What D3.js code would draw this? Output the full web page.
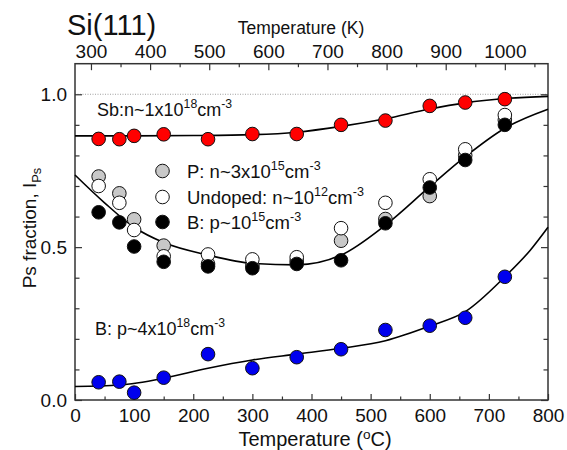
<!DOCTYPE html>
<html>
<head>
<meta charset="utf-8">
<script src="https://cdn.jsdelivr.net/npm/d3@7"></script>
<style>
  html, body { margin: 0; padding: 0; background: #fff; }
  svg { display: block; font-family: "Liberation Sans", Arial, sans-serif; }
</style>
</head>
<body>
<svg id="chart" width="567" height="450"></svg>
<script>
// ---------- DATA ----------
const temperatures = [40, 75, 100, 150, 225, 300, 375, 450, 525, 600, 660, 727];
const sbHigh   = [0.854, 0.853, 0.864, 0.869, 0.853, 0.870, 0.870, 0.900, 0.914, 0.962, 0.973, 0.984];
const sbError  = [0.02, 0.02, 0.02, 0.02, 0.02, 0.02, 0.02, 0.02, 0.02, 0.02, 0.02, 0.02];
const pLow     = [0.731, 0.676, 0.591, 0.505, 0.445, 0.440, 0.455, 0.521, 0.592, 0.667, 0.800, 0.916];
const undoped  = [0.700, 0.645, 0.556, 0.470, 0.476, 0.460, 0.467, 0.562, 0.645, 0.722, 0.820, 0.932];
const bLow     = [0.614, 0.581, 0.502, 0.452, 0.437, 0.431, 0.445, 0.457, 0.578, 0.695, 0.785, 0.900];
const bHigh    = [0.058, 0.060, 0.024, 0.073, 0.150, 0.104, 0.140, 0.166, 0.229, 0.243, 0.269, 0.403];

// fit curves: [temperature °C, value]
const fitSb  = [[0,0.864],[100,0.864],[200,0.865],[300,0.868],[375,0.876],[450,0.895],[525,0.920],[600,0.952],[660,0.972],[727,0.986],[800,0.993]];
const fitMid = [[0,0.736],[50,0.645],[100,0.565],[150,0.515],[225,0.474],[300,0.447],[375,0.442],[450,0.474],[525,0.572],[600,0.698],[660,0.796],[727,0.889],[800,0.951]];
const fitB   = [[0,0.044],[75,0.049],[150,0.071],[225,0.104],[300,0.131],[375,0.150],[450,0.169],[525,0.194],[600,0.242],[660,0.289],[727,0.403],[770,0.490],[800,0.565]];

const xTicksMajor = [0, 100, 200, 300, 400, 500, 600, 700, 800];
const xTicksMinor = [50, 150, 250, 350, 450, 550, 650, 750];
const kTicksMajor = [300, 400, 500, 600, 700, 800, 900, 1000];
const kTicksMinor = [350, 450, 550, 650, 750, 850, 950, 1050];
const yTicksMajor = [0.0, 0.5, 1.0];
const yTicksMinor = [0.1, 0.2, 0.3, 0.4, 0.6, 0.7, 0.8, 0.9];

// ---------- LAYOUT ----------
const svg = d3.select("#chart");
const L = 75, R = 548, T = 63.7, B = 400;
const x = d3.scaleLinear().domain([0, 800]).range([L, R]);
const xK = d3.scaleLinear().domain([273, 1073]).range([L, R]);
const y = d3.scaleLinear().domain([0, 1.1]).range([B, T]);
const axisColor = "#333";
const tickFont = 19;

// dotted reference line at 1.0
svg.append("line")
  .attr("x1", L).attr("x2", R).attr("y1", y(1)).attr("y2", y(1))
  .attr("stroke", "#888").attr("stroke-width", 0.8).attr("stroke-dasharray", "1,1.5");

function styleAxis(g) {
  g.select(".domain").remove();
  g.selectAll(".tick line").attr("stroke", axisColor).attr("stroke-width", 1.2);
  g.selectAll(".tick text").attr("fill", "#111").attr("font-size", tickFont)
    .attr("font-family", "Liberation Sans, Arial, sans-serif");
}

// bottom axis
svg.append("g").attr("transform", `translate(0,${B})`)
  .call(d3.axisBottom(x).tickValues(xTicksMajor).tickSizeInner(-6).tickSizeOuter(0).tickPadding(9).tickFormat(d3.format("d")))
  .call(styleAxis);
svg.append("g").attr("transform", `translate(0,${B})`)
  .call(d3.axisBottom(x).tickValues(xTicksMinor).tickSizeInner(-3.5).tickSizeOuter(0).tickFormat(""))
  .call(styleAxis);

// top axis (K)
svg.append("g").attr("transform", `translate(0,${T})`)
  .call(d3.axisTop(xK).tickValues(kTicksMajor).tickSizeInner(-6.5).tickSizeOuter(0).tickPadding(6).tickFormat(d3.format("d")))
  .call(styleAxis);
svg.append("g").attr("transform", `translate(0,${T})`)
  .call(d3.axisTop(xK).tickValues(kTicksMinor).tickSizeInner(-3.5).tickSizeOuter(0).tickFormat(""))
  .call(styleAxis);

// left axis
svg.append("g").attr("transform", `translate(${L},0)`)
  .call(d3.axisLeft(y).tickValues(yTicksMajor).tickSizeInner(-7).tickSizeOuter(0).tickPadding(8).tickFormat(d3.format(".1f")))
  .call(styleAxis);
svg.append("g").attr("transform", `translate(${L},0)`)
  .call(d3.axisLeft(y).tickValues(yTicksMinor).tickSizeInner(-4.5).tickSizeOuter(0).tickFormat(""))
  .call(styleAxis);
// right axis
svg.append("g").attr("transform", `translate(${R},0)`)
  .call(d3.axisRight(y).tickValues(yTicksMajor).tickSizeInner(-7).tickSizeOuter(0).tickFormat(""))
  .call(styleAxis);
svg.append("g").attr("transform", `translate(${R},0)`)
  .call(d3.axisRight(y).tickValues(yTicksMinor).tickSizeInner(-4.5).tickSizeOuter(0).tickFormat(""))
  .call(styleAxis);

// frame
svg.append("rect").attr("x", L).attr("y", T).attr("width", R - L).attr("height", B - T)
  .attr("fill", "none").attr("stroke", axisColor).attr("stroke-width", 1.5);

// fit curves
const line = d3.line().x(d => x(d[0])).y(d => y(d[1])).curve(d3.curveMonotoneX);
[fitSb, fitMid, fitB].forEach(f => {
  svg.append("path").datum(f).attr("d", line)
    .attr("fill", "none").attr("stroke", "#000").attr("stroke-width", 1.6);
});

// error bars on Sb
const eb = svg.append("g").attr("stroke", "#777").attr("stroke-width", 0.9);
temperatures.forEach((t, i) => {
  const cx = x(t), y1 = y(sbHigh[i] + sbError[i]), y2 = y(sbHigh[i] - sbError[i]);
  eb.append("line").attr("x1", cx).attr("x2", cx).attr("y1", y1).attr("y2", y2);
  eb.append("line").attr("x1", cx - 3).attr("x2", cx + 3).attr("y1", y1).attr("y2", y1);
  eb.append("line").attr("x1", cx - 3).attr("x2", cx + 3).attr("y1", y2).attr("y2", y2);
});

const rad = 6.8;
function drawPoints(values, fill) {
  svg.append("g").selectAll("circle").data(values).join("circle")
    .attr("cx", (d, i) => x(temperatures[i])).attr("cy", d => y(d)).attr("r", rad)
    .attr("fill", fill).attr("stroke", "#111").attr("stroke-width", 1);
}
drawPoints(sbHigh, "#ff0000");
drawPoints(pLow, "#c8c8c8");
drawPoints(undoped, "#ffffff");
drawPoints(bLow, "#000000");
drawPoints(bHigh, "#0000ee");

// rich text helper: parts = [[text, 'sup'|'sub'|null], ...]
function richText(px, py, parts, size, anchor, supShift) {
  const t = svg.append("text").attr("x", px).attr("y", py).attr("font-size", size)
    .attr("fill", "#111").attr("text-anchor", anchor || "start");
  let shift = 0;
  const ss = supShift || 0.42;
  parts.forEach(([s, kind]) => {
    const ts = t.append("tspan").text(s);
    let target = 0, fs = size;
    if (kind === "sup") { target = -ss * size; fs = size * 0.68; }
    else if (kind === "sub") { target = 0.25 * size; fs = size * 0.68; }
    ts.attr("dy", target - shift).attr("font-size", fs);
    shift = target;
  });
  return t;
}

// labels
richText(97, 116, [["Sb:n~1x10", null], ["18", "sup"], ["cm", null], ["-3", "sup"]], 18);
richText(95, 335, [["B: p~4x10", null], ["18", "sup"], ["cm", null], ["-3", "sup"]], 18);

// legend
const legendRows = [
  { fill: "#c8c8c8", cy: 171, parts: [["P: n~3x10", null], ["15", "sup"], ["cm", null], ["-3", "sup"]] },
  { fill: "#ffffff", cy: 197, parts: [["Undoped: n~10", null], ["12", "sup"], ["cm", null], ["-3", "sup"]] },
  { fill: "#000000", cy: 222, parts: [["B: p~10", null], ["15", "sup"], ["cm", null], ["-3", "sup"]] }
];
legendRows.forEach(r => {
  svg.append("circle").attr("cx", 162.5).attr("cy", r.cy).attr("r", rad)
    .attr("fill", r.fill).attr("stroke", "#111").attr("stroke-width", 1);
  richText(187, r.cy + 6.5, r.parts, 18.5);
});

// titles
svg.append("text").attr("x", 67).attr("y", 35).attr("font-size", 29).attr("fill", "#111").text("Si(111)");
svg.append("text").attr("x", 301).attr("y", 34).attr("font-size", 17.5).attr("fill", "#111")
  .attr("text-anchor", "middle").text("Temperature (K)");
richText(315, 446, [["Temperature (", null], ["o", "sup"], ["C)", null]], 20, "middle", 0.34);

// y label
const yl = svg.append("g").attr("transform", "translate(36,228) rotate(-90)");
(function () {
  const size = 19;
  const t = yl.append("text").attr("x", 0).attr("y", 0).attr("font-size", size)
    .attr("fill", "#111").attr("text-anchor", "middle");
  t.append("tspan").text("Ps fraction, I");
  t.append("tspan").text("Ps").attr("font-size", size * 0.68).attr("dy", 0.25 * size);
})();
</script>
</body>
</html>
